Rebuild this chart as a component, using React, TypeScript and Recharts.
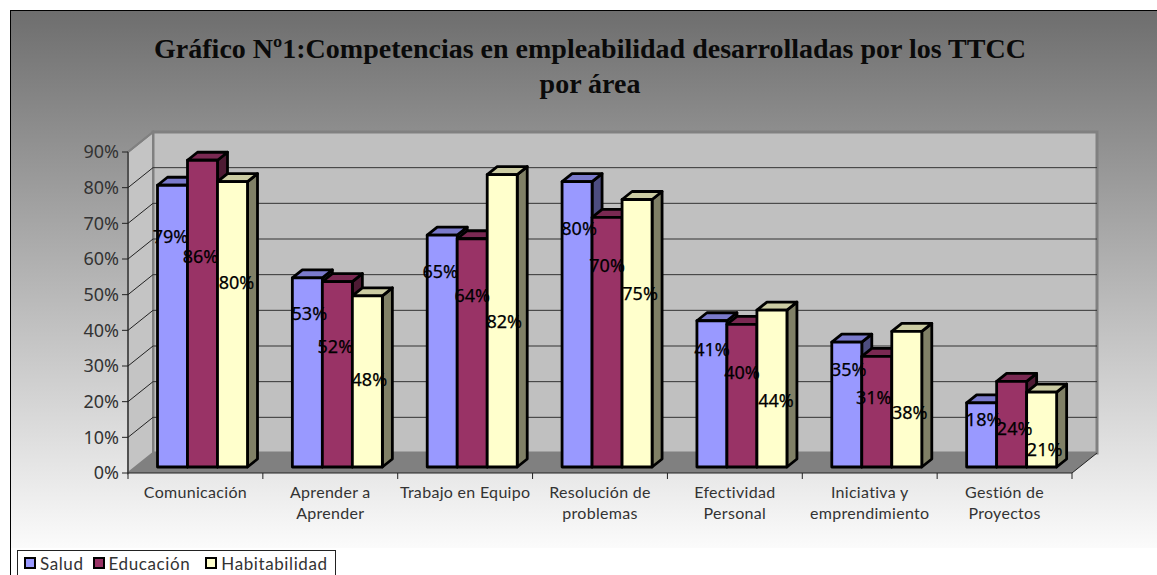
import { BarChart, Bar, XAxis, YAxis, CartesianGrid, LabelList } from "recharts"

const categories = [
  "Comunicación",
  "Aprender a\nAprender",
  "Trabajo en Equipo",
  "Resolución de\nproblemas",
  "Efectividad\nPersonal",
  "Iniciativa y\nemprendimiento",
  "Gestión de\nProyectos",
]
const salud = [79, 53, 65, 80, 41, 35, 18]
const educacion = [86, 52, 64, 70, 40, 31, 24]
const habitabilidad = [80, 48, 82, 75, 44, 38, 21]
const yTicks = [0, 10, 20, 30, 40, 50, 60, 70, 80, 90]

const data = categories.map((name, i) => ({
  name,
  salud: salud[i],
  educacion: educacion[i],
  habitabilidad: habitabilidad[i],
}))

// plot box of the front plane
const LEFT = 128
const RIGHT = 1072
const TOP = 152
const BOTTOM = 473
const X_AXIS_HEIGHT = 60
// how far the back wall sits from the front plane
const WALL_DX = 25
const WALL_DY = -20
// bars stand a little inside the floor, and have their own depth
const BAR_DX = 7.5
const BAR_DY = -6
const DEPTH_X = 10
const DEPTH_Y = -8

// excel put the data labels in odd places, nudges are from the top centre of each bar
const saludNudge = [[-2, 51], [2, 35], [-2, 36], [2, 46], [0, 28], [2, 27], [2, 16]]
const educacionNudge = [[-2, 96], [-2, 64], [0, 56], [0, 48], [0, 48], [-3, 41], [3, 47]]
const habitabilidadNudge = [[4, 100], [2, 83], [2, 146], [3, 93], [4, 90], [3, 81], [3, 57]]

const SERIES = [
  { key: "salud", name: "Salud", front: "#9999ff", top: "#7a7acc", side: "#4d4d80", nudge: saludNudge, gap: 9 },
  { key: "educacion", name: "Educación", front: "#993366", top: "#7a2952", side: "#4d1a33", nudge: educacionNudge, gap: 15 },
  { key: "habitabilidad", name: "Habitabilidad", front: "#ffffcc", top: "#ccccA3", side: "#808066", nudge: habitabilidadNudge, gap: 0 },
]

const Bar3D = (props: any) => {
  const { x, y, width, height, front, top, side } = props
  const l = x + BAR_DX
  const t = y + BAR_DY
  const r = l + width
  const b = t + height
  const stroke = { stroke: "#000", strokeWidth: 2.8, strokeLinejoin: "round" as const }
  return (
    <g>
      <polygon points={`${r},${t} ${r + DEPTH_X},${t + DEPTH_Y} ${r + DEPTH_X},${b + DEPTH_Y} ${r},${b}`} fill={side} {...stroke} />
      <polygon points={`${l},${t} ${l + DEPTH_X},${t + DEPTH_Y} ${r + DEPTH_X},${t + DEPTH_Y} ${r},${t}`} fill={top} {...stroke} />
      <rect x={l} y={t} width={width} height={height} fill={front} {...stroke} />
    </g>
  )
}

// the box behind the chart, its own svg so it stays under the grid
const Walls = () => (
  <svg width={1157} height={575} style={{ position: "absolute", left: 0, top: 0 }}>
    <polygon
      points={`${LEFT + WALL_DX},${TOP + WALL_DY} ${RIGHT + WALL_DX},${TOP + WALL_DY} ${RIGHT + WALL_DX},${BOTTOM + WALL_DY} ${LEFT + WALL_DX},${BOTTOM + WALL_DY}`}
      fill="#c0c0c0"
      stroke="#808080"
      strokeWidth={3}
    />
    <polygon
      points={`${LEFT},${TOP} ${LEFT + WALL_DX},${TOP + WALL_DY} ${LEFT + WALL_DX},${BOTTOM + WALL_DY} ${LEFT},${BOTTOM}`}
      fill="#c4c4c4"
      stroke="#808080"
      strokeWidth={2}
    />
    <polygon
      points={`${LEFT},${BOTTOM} ${RIGHT},${BOTTOM} ${RIGHT + WALL_DX},${BOTTOM + WALL_DY} ${LEFT + WALL_DX},${BOTTOM + WALL_DY}`}
      fill="#808080"
    />
    <line x1={RIGHT} y1={BOTTOM} x2={RIGHT + WALL_DX} y2={BOTTOM + WALL_DY} stroke="#222" strokeWidth={1} />
  </svg>
)

// grid line: runs back along the side wall then across the back wall
const gridLine = (props: any) => {
  const { x1, x2, y1, index } = props
  if (y1 >= BOTTOM - 1) return <g key={index} />
  const atTop = y1 <= TOP + 1
  return (
    <g key={index}>
      <line x1={x1} y1={y1} x2={x1 + WALL_DX} y2={y1 + WALL_DY} stroke={atTop ? "#808080" : "#222"} strokeWidth={atTop ? 2 : 1} />
      {!atTop && <line x1={x1 + WALL_DX} y1={y1 + WALL_DY} x2={x2 + WALL_DX} y2={y1 + WALL_DY} stroke="#333" strokeWidth={1} />}
    </g>
  )
}

const CategoryTick = (props: any) => {
  const { x, payload, index } = props
  const band = (RIGHT - LEFT) / categories.length
  const lines = String(payload.value).split("\n")
  return (
    <g>
      <line x1={x - band / 2} y1={BOTTOM} x2={x - band / 2} y2={BOTTOM + 6} stroke="#222" />
      {index === categories.length - 1 && <line x1={x + band / 2} y1={BOTTOM} x2={x + band / 2} y2={BOTTOM + 6} stroke="#222" />}
      <text x={x} y={BOTTOM + 25} textAnchor="middle" fontFamily="Lato" fontSize={16} letterSpacing={0.3} fill="#333">
        {lines.map((line, i) => (
          <tspan key={i} x={x} dy={i === 0 ? 0 : 21}>{line}</tspan>
        ))}
      </text>
    </g>
  )
}

const renderLabel = (nudge: number[][]) => (props: any) => {
  const { x, y, width, value, index } = props
  return (
    <text
      x={x + BAR_DX + width / 2 + nudge[index][0]}
      y={y + BAR_DY + nudge[index][1]}
      textAnchor="middle"
      dominantBaseline="central"
      fontFamily="Noto Sans"
      fontSize={18}
      fill="#000"
      stroke="#000"
      strokeWidth={0.25}
    >
      {value}%
    </text>
  )
}

const LegendBox = () => (
  <div
    style={{
      position: "absolute",
      left: 17,
      top: 550,
      width: 319,
      height: 26,
      boxSizing: "border-box",
      border: "1px solid #222",
      background: "#fff",
      display: "flex",
      alignItems: "center",
      paddingLeft: 6,
      fontFamily: "Lato",
      fontSize: 17,
      color: "#333",
      letterSpacing: 0.6,
    }}
  >
    {SERIES.map((s) => (
      <span key={s.key} style={{ display: "flex", alignItems: "center", marginRight: s.gap }}>
        <span style={{ width: 8, height: 8, background: s.front, border: "2px solid #000", marginRight: 4 }} />
        {s.name}
      </span>
    ))}
  </div>
)

export default function App() {
  return (
    <div style={{ position: "absolute", left: 0, top: 0, width: 1157, height: 575, background: "#fff", overflow: "hidden" }}>
      <div
        style={{
          position: "absolute",
          left: 10,
          top: 10,
          width: 1147,
          height: 565,
          borderLeft: "1px solid #000",
          borderTop: "1px solid #000",
          boxSizing: "border-box",
        }}
      />
      <div
        style={{
          position: "absolute",
          left: 11,
          top: 11,
          width: 1146,
          height: 537,
          background: "linear-gradient(#6e6e6e, #fbfbfb)",
        }}
      />
      <div
        style={{
          position: "absolute",
          left: 0,
          right: 0,
          top: 31,
          textAlign: "center",
          paddingLeft: 23,
          fontFamily: "Liberation Serif",
          fontWeight: "bold",
          fontSize: 28,
          lineHeight: "35px",
          color: "#0a0a0a",
        }}
      >
        Gráfico Nº1:Competencias en empleabilidad desarrolladas por los TTCC
        <br />
        por área
      </div>
      <Walls />
      <div style={{ position: "absolute", left: 0, top: 0 }}>
        <BarChart
          width={1157}
          height={575}
          data={data}
          margin={{ top: TOP, right: 1157 - RIGHT, bottom: 575 - BOTTOM - X_AXIS_HEIGHT, left: 0 }}
          barSize={30}
          barGap={0}
        >
          <CartesianGrid vertical={false} horizontal={gridLine} />
          <XAxis
            dataKey="name"
            interval={0}
            axisLine={{ stroke: "#222" }}
            tickLine={false}
            tick={<CategoryTick />}
            height={X_AXIS_HEIGHT}
          />
          <YAxis
            width={LEFT}
            domain={[0, 90]}
            ticks={yTicks}
            tickFormatter={(v: number) => `${v}%`}
            axisLine={{ stroke: "#222" }}
            tickLine={{ stroke: "#222" }}
            tickSize={6}
            tickMargin={3}
            tick={{ fontFamily: "Noto Sans", fontSize: 18, fill: "#333" }}
          />
          {SERIES.map((s) => (
            <Bar
              key={s.key}
              dataKey={s.key}
              name={s.name}
              isAnimationActive={false}
              fill={s.front}
              shape={(p: any) => <Bar3D {...p} front={s.front} top={s.top} side={s.side} />}
            >
              <LabelList dataKey={s.key} content={renderLabel(s.nudge)} />
            </Bar>
          ))}
        </BarChart>
      </div>
      <LegendBox />
    </div>
  )
}
